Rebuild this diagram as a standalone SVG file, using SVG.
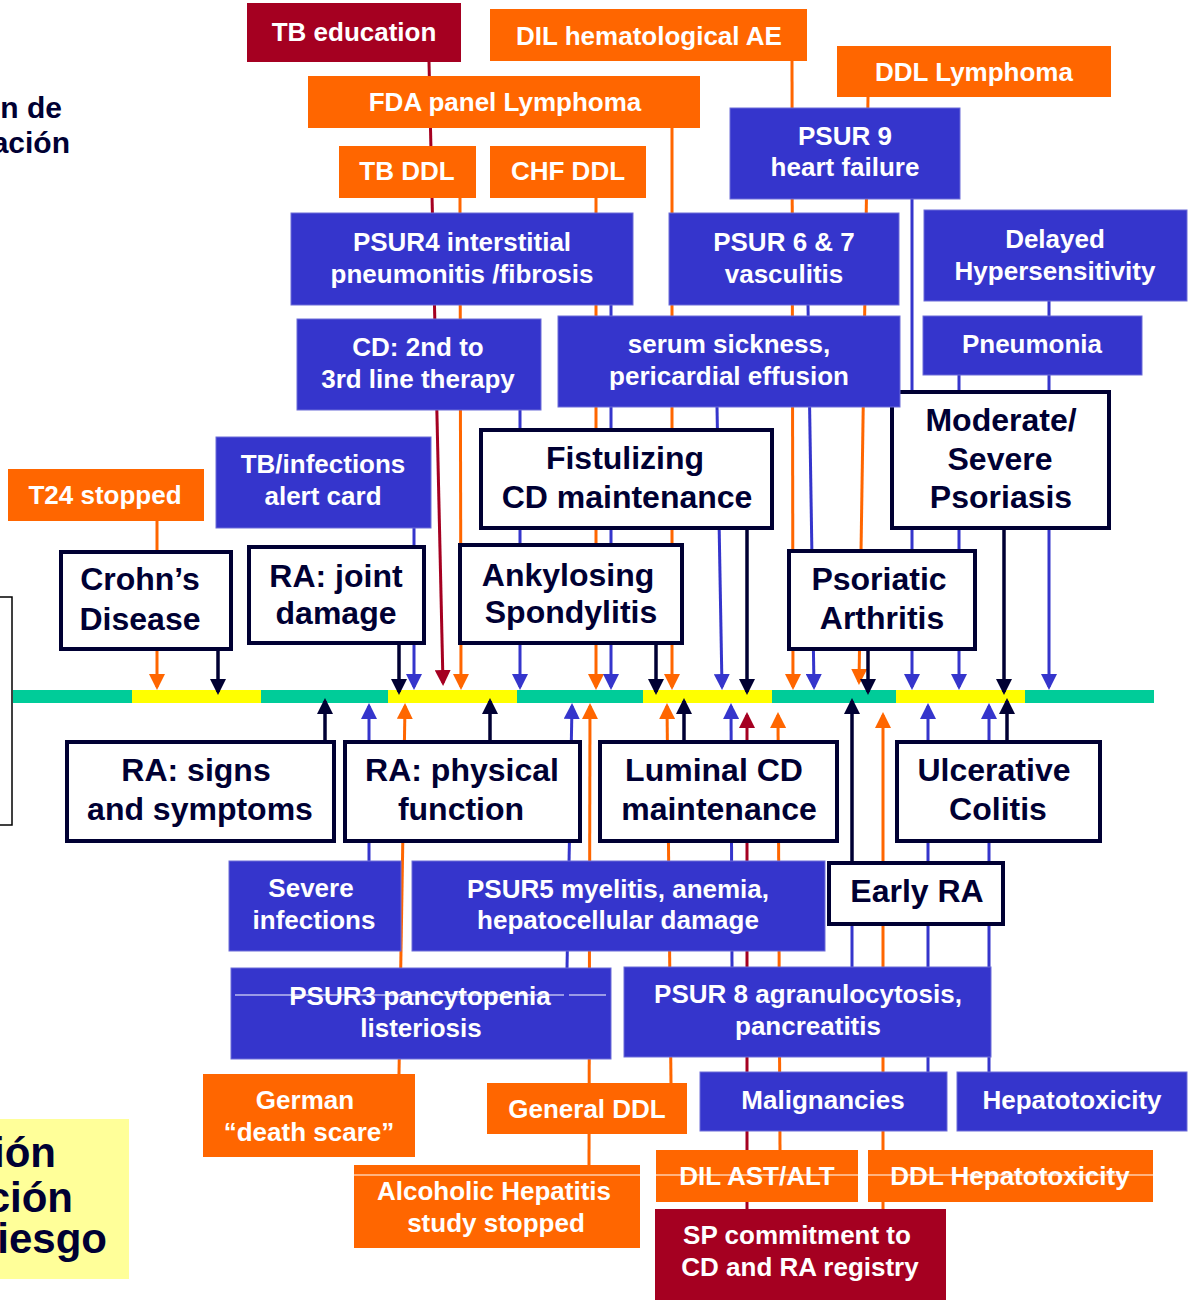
<svg xmlns="http://www.w3.org/2000/svg" width="1191" height="1300" viewBox="0 0 1191 1300">
<style>
.o{fill:#FF6600}
.b{fill:#3535CC;stroke:#6d6dd8;stroke-width:1}
.r{fill:#A50021}
.n{fill:#fff;stroke:#000033;stroke-width:4}
.tw{font-family:"Liberation Sans",Arial,sans-serif;font-weight:bold;font-size:26px;fill:#fff;text-anchor:middle}
.tn{font-family:"Liberation Sans",Arial,sans-serif;font-weight:bold;font-size:32px;fill:#000033;text-anchor:middle}
.side{font-family:"Liberation Sans",Arial,sans-serif;font-weight:bold;fill:#000033;text-anchor:end}
.lo{stroke:#FF6600;stroke-width:3;fill:none;marker-end:url(#mo)}
.lb{stroke:#3535CC;stroke-width:3;fill:none;marker-end:url(#mb)}
.lr{stroke:#A50021;stroke-width:3;fill:none;marker-end:url(#mr)}
.ln{stroke:#000033;stroke-width:3.5;fill:none;marker-end:url(#mn)}
.strike{stroke:#fff;stroke-width:1.2}
</style>
<defs>
<marker id="mo" viewBox="0 0 16 16" markerWidth="16" markerHeight="16" markerUnits="userSpaceOnUse" refX="13" refY="8" orient="auto"><path d="M0,0 L16,8 L0,16 z" fill="#FF6600"/></marker>
<marker id="mb" viewBox="0 0 16 16" markerWidth="16" markerHeight="16" markerUnits="userSpaceOnUse" refX="13" refY="8" orient="auto"><path d="M0,0 L16,8 L0,16 z" fill="#3535CC"/></marker>
<marker id="mr" viewBox="0 0 16 16" markerWidth="16" markerHeight="16" markerUnits="userSpaceOnUse" refX="13" refY="8" orient="auto"><path d="M0,0 L16,8 L0,16 z" fill="#A50021"/></marker>
<marker id="mn" viewBox="0 0 16 16" markerWidth="16" markerHeight="16" markerUnits="userSpaceOnUse" refX="13" refY="8" orient="auto"><path d="M0,0 L16,8 L0,16 z" fill="#000033"/></marker>
</defs>
<rect width="1191" height="1300" fill="#fff"/>

<!-- side fragments -->
<text class="side" x="62" y="118" font-size="30">n de</text>
<text class="side" x="70" y="153" font-size="30">ación</text>
<rect x="-10" y="597" width="22" height="228" fill="#fff" stroke="#000" stroke-width="1.5"/>
<rect x="-5" y="1119" width="134" height="160" fill="#FFFF99"/>
<text class="side" x="56" y="1167" font-size="42">ión</text>
<text class="side" x="73" y="1212" font-size="42">ción</text>
<text class="side" x="107" y="1253" font-size="42">iesgo</text>

<!-- timeline -->
<g id="timeline">
<rect x="13" y="690" width="119" height="13" fill="#00CC99"/>
<rect x="132" y="690" width="129" height="13" fill="#FFFF00"/>
<rect x="261" y="690" width="127" height="13" fill="#00CC99"/>
<rect x="388" y="690" width="129" height="13" fill="#FFFF00"/>
<rect x="517" y="690" width="126" height="13" fill="#00CC99"/>
<rect x="643" y="690" width="129" height="13" fill="#FFFF00"/>
<rect x="772" y="690" width="124" height="13" fill="#00CC99"/>
<rect x="896" y="690" width="129" height="13" fill="#FFFF00"/>
<rect x="1025" y="690" width="129" height="13" fill="#00CC99"/>
</g>

<g id="connectors">
<!-- down arrows -->
<line class="lo" x1="157" y1="521" x2="157" y2="687"/>
<line class="ln" x1="218" y1="651" x2="218" y2="692"/>
<line class="ln" x1="399" y1="645" x2="399" y2="692"/>
<line class="lb" x1="414" y1="528" x2="414" y2="687"/>
<line class="lr" x1="429" y1="62" x2="443" y2="683"/>
<line class="lo" x1="460" y1="198" x2="461" y2="687"/>
<line class="lb" x1="520" y1="410" x2="520" y2="687"/>
<line class="lo" x1="596" y1="198" x2="596" y2="687"/>
<line class="lb" x1="611" y1="305" x2="611" y2="687"/>
<line class="ln" x1="656" y1="645" x2="656" y2="692"/>
<line class="lo" x1="672" y1="128" x2="672" y2="687"/>
<line class="lb" x1="717" y1="407" x2="722" y2="687"/>
<line class="ln" x1="747" y1="530" x2="747" y2="692"/>
<line class="lo" x1="792" y1="61" x2="793" y2="687"/>
<line class="lb" x1="808" y1="305" x2="814" y2="687"/>
<line class="lo" x1="868" y1="97" x2="859" y2="682"/>
<line class="ln" x1="868" y1="651" x2="868" y2="692"/>
<line class="lb" x1="912" y1="199" x2="912" y2="687"/>
<line class="lb" x1="959" y1="375" x2="959" y2="687"/>
<line class="ln" x1="1004" y1="530" x2="1004" y2="692"/>
<line class="lb" x1="1049" y1="301" x2="1049" y2="687"/>
<!-- up arrows -->
<line class="ln" x1="325" y1="740" x2="325" y2="701"/>
<line class="lb" x1="369" y1="861" x2="369" y2="706"/>
<line class="lo" x1="399" y1="1074" x2="405" y2="706"/>
<line class="ln" x1="490" y1="740" x2="490" y2="701"/>
<line class="lb" x1="567" y1="968" x2="572" y2="706"/>
<line class="lo" x1="589" y1="1165" x2="590" y2="706"/>
<line class="lo" x1="671" y1="1083" x2="667" y2="706"/>
<line class="ln" x1="684" y1="740" x2="684" y2="701"/>
<line class="lb" x1="732" y1="967" x2="731" y2="706"/>
<line class="lr" x1="747" y1="1209" x2="747" y2="715"/>
<line class="lo" x1="780" y1="1150" x2="778" y2="715"/>
<line class="ln" x1="852" y1="861" x2="852" y2="701"/>
<line x1="852" y1="967" x2="852" y2="926" stroke="#3535CC" stroke-width="3"/>
<line class="lo" x1="883" y1="1209" x2="883" y2="715"/>
<line class="lb" x1="928" y1="1072" x2="928" y2="706"/>
<line class="lb" x1="989" y1="1072" x2="989" y2="706"/>
<line class="ln" x1="1007" y1="740" x2="1007" y2="701"/>
</g>

<!-- top nodes -->
<g id="tb-education"><rect class="r" x="247" y="3" width="214" height="59"/><text class="tw" x="354" y="41">TB education</text></g>
<g id="dil-hematological"><rect class="o" x="490" y="9" width="317" height="52"/><text class="tw" x="649" y="45">DIL hematological AE</text></g>
<g id="fda-panel"><rect class="o" x="308" y="76" width="392" height="52"/><text class="tw" x="505" y="111">FDA panel Lymphoma</text></g>
<g id="ddl-lymphoma"><rect class="o" x="837" y="46" width="274" height="51"/><text class="tw" x="974" y="81">DDL Lymphoma</text></g>
<g id="tb-ddl"><rect class="o" x="339" y="146" width="137" height="52"/><text class="tw" x="407" y="180">TB DDL</text></g>
<g id="chf-ddl"><rect class="o" x="490" y="146" width="156" height="52"/><text class="tw" x="568" y="180">CHF DDL</text></g>
<g id="psur9"><rect class="b" x="730" y="108" width="230" height="91"/><text class="tw" x="845" y="145">PSUR 9</text><text class="tw" x="845" y="176">heart failure</text></g>
<g id="psur4"><rect class="b" x="291" y="213" width="342" height="92"/><text class="tw" x="462" y="251">PSUR4 interstitial</text><text class="tw" x="462" y="283">pneumonitis /fibrosis</text></g>
<g id="psur67"><rect class="b" x="669" y="213" width="230" height="92"/><text class="tw" x="784" y="251">PSUR 6 &amp; 7</text><text class="tw" x="784" y="283">vasculitis</text></g>
<g id="delayed"><rect class="b" x="924" y="210" width="263" height="91"/><text class="tw" x="1055" y="248">Delayed</text><text class="tw" x="1055" y="280">Hypersensitivity</text></g>
<g id="cd-line"><rect class="b" x="297" y="319" width="244" height="91"/><text class="tw" x="418" y="356">CD: 2nd to</text><text class="tw" x="418" y="388">3rd line therapy</text></g>
<g id="pneumonia"><rect class="b" x="923" y="316" width="219" height="59"/><text class="tw" x="1032" y="353">Pneumonia</text></g>
<g id="t24"><rect class="o" x="8" y="469" width="196" height="52"/><text class="tw" x="105" y="504">T24 stopped</text></g>
<g id="tb-card"><rect class="b" x="216" y="437" width="215" height="91"/><text class="tw" x="323" y="473">TB/infections</text><text class="tw" x="323" y="505">alert card</text></g>

<!-- indication nodes above -->
<g id="crohns"><rect class="n" x="61" y="552" width="170" height="97"/><text class="tn" x="140" y="590">Crohn’s</text><text class="tn" x="140" y="630">Disease</text></g>
<g id="ra-joint"><rect class="n" x="249" y="547" width="175" height="96"/><text class="tn" x="336" y="587">RA: joint</text><text class="tn" x="336" y="624">damage</text></g>
<g id="fistulizing"><rect class="n" x="481" y="430" width="291" height="98"/><text class="tn" x="625" y="469">Fistulizing</text><text class="tn" x="627" y="508">CD maintenance</text></g>
<g id="ankylosing"><rect class="n" x="460" y="545" width="222" height="98"/><text class="tn" x="568" y="586">Ankylosing</text><text class="tn" x="571" y="623">Spondylitis</text></g>
<g id="psoriasis"><rect class="n" x="892" y="392" width="217" height="136"/><text class="tn" x="1001" y="431">Moderate/</text><text class="tn" x="1000" y="470">Severe</text><text class="tn" x="1001" y="508">Psoriasis</text></g>
<g id="serum"><rect class="b" x="558" y="316" width="342" height="91"/><text class="tw" x="729" y="353">serum sickness,</text><text class="tw" x="729" y="385">pericardial effusion</text></g>
<g id="psoriatic"><rect class="n" x="789" y="551" width="186" height="98"/><text class="tn" x="879" y="590">Psoriatic</text><text class="tn" x="882" y="629">Arthritis</text></g>

<!-- indication nodes below -->
<g id="ra-signs"><rect class="n" x="67" y="742" width="267" height="99"/><text class="tn" x="196" y="781">RA: signs</text><text class="tn" x="200" y="820">and symptoms</text></g>
<g id="ra-physical"><rect class="n" x="345" y="742" width="235" height="99"/><text class="tn" x="462" y="781">RA: physical</text><text class="tn" x="461" y="820">function</text></g>
<g id="luminal"><rect class="n" x="600" y="742" width="237" height="99"/><text class="tn" x="714" y="781">Luminal CD</text><text class="tn" x="719" y="820">maintenance</text></g>
<g id="uc"><rect class="n" x="897" y="742" width="203" height="99"/><text class="tn" x="994" y="781">Ulcerative</text><text class="tn" x="998" y="820">Colitis</text></g>
<g id="early-ra"><rect class="n" x="829" y="863" width="174" height="61"/><text class="tn" x="917" y="902">Early RA</text></g>

<!-- bottom nodes -->
<g id="severe-infections"><rect class="b" x="229" y="861" width="172" height="90"/><text class="tw" x="311" y="897">Severe</text><text class="tw" x="314" y="929">infections</text></g>
<g id="psur5"><rect class="b" x="412" y="861" width="413" height="90"/><text class="tw" x="618" y="898">PSUR5 myelitis, anemia,</text><text class="tw" x="618" y="929">hepatocellular damage</text></g>
<g id="psur3"><rect class="b" x="231" y="968" width="380" height="91"/><text class="tw" x="420" y="1005">PSUR3 pancytopenia</text><text class="tw" x="421" y="1037">listeriosis</text><line class="strike" x1="235" y1="995" x2="564" y2="995"/><line class="strike" x1="569" y1="995" x2="606" y2="995"/></g>
<g id="psur8"><rect class="b" x="624" y="967" width="367" height="90"/><text class="tw" x="808" y="1003">PSUR 8 agranulocytosis,</text><text class="tw" x="808" y="1035">pancreatitis</text></g>
<g id="german"><rect class="o" x="203" y="1074" width="212" height="83"/><text class="tw" x="305" y="1109">German</text><text class="tw" x="309" y="1141">“death scare”</text></g>
<g id="general-ddl"><rect class="o" x="487" y="1083" width="200" height="51"/><text class="tw" x="587" y="1118">General DDL</text></g>
<g id="malignancies"><rect class="b" x="700" y="1072" width="247" height="59"/><text class="tw" x="823" y="1109">Malignancies</text></g>
<g id="hepatotoxicity"><rect class="b" x="957" y="1072" width="230" height="59"/><text class="tw" x="1072" y="1109">Hepatotoxicity</text></g>
<g id="alcoholic"><rect class="o" x="354" y="1165" width="286" height="83"/><text class="tw" x="494" y="1200">Alcoholic Hepatitis</text><text class="tw" x="496" y="1232">study stopped</text></g>
<g id="dil-ast"><rect class="o" x="656" y="1150" width="202" height="52"/><text class="tw" x="757" y="1185">DIL AST/ALT</text></g>
<g id="ddl-hepatotoxicity"><rect class="o" x="868" y="1150" width="285" height="52"/><text class="tw" x="1010" y="1185">DDL Hepatotoxicity</text></g>
<g id="sp-commitment"><rect class="r" x="655" y="1209" width="291" height="95"/><text class="tw" x="797" y="1244">SP commitment to</text><text class="tw" x="800" y="1276">CD and RA registry</text></g>
<line class="strike" x1="354" y1="1175" x2="1153" y2="1175"/>
</svg>
